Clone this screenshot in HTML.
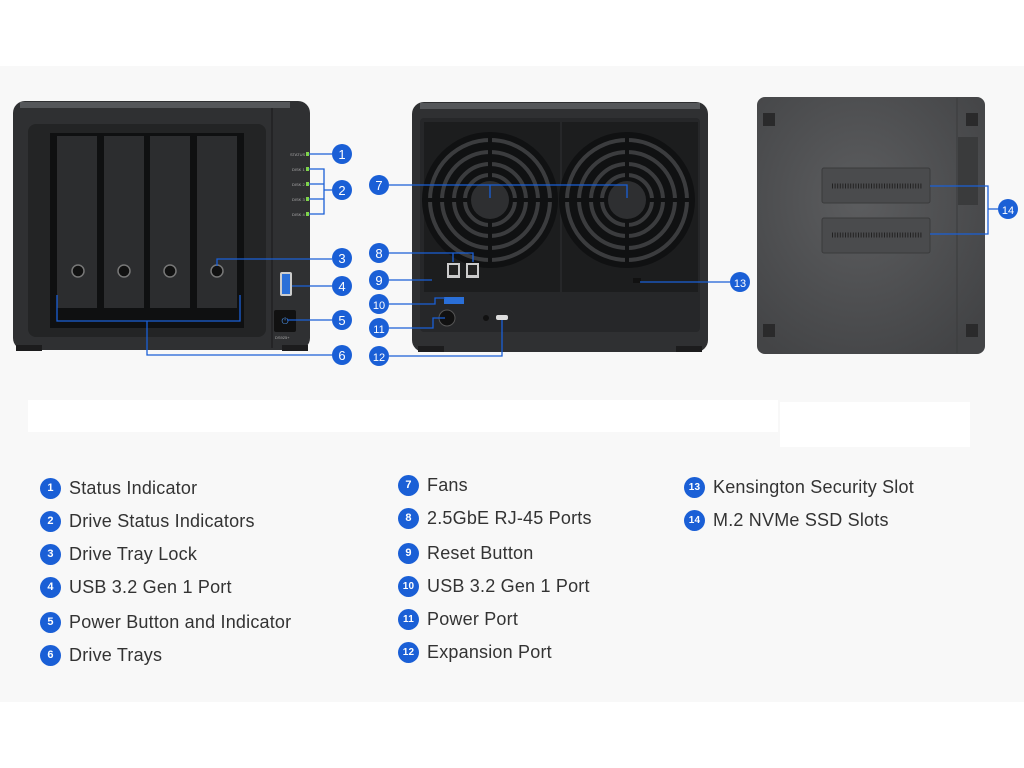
<!DOCTYPE html>
<html><head><meta charset="utf-8"><style>
body{margin:0;width:1024px;height:768px;background:#fff;overflow:hidden;font-family:"Liberation Sans",sans-serif}
.leg{position:absolute;font-size:18px;color:#333;display:flex;align-items:center;letter-spacing:.2px}
.leg b{display:inline-block;width:21px;height:21px;border-radius:50%;background:#1a5fd6;color:#fff;font-size:11px;font-weight:bold;text-align:center;line-height:21px;margin-right:8px}
</style></head><body>
<div style="position:absolute;left:0;top:66px;width:1024px;height:636px;background:#f8f8f8"></div>
<div style="position:absolute;left:28px;top:400px;width:750px;height:32px;background:#fff"></div>
<div style="position:absolute;left:780px;top:402px;width:190px;height:45px;background:#fff"></div>
<svg style="position:absolute;left:0;top:0" width="1024" height="768" viewBox="0 0 1024 768">
<defs>
<radialGradient id="bg" cx="0.45" cy="0.4" r="0.7"><stop offset="0" stop-color="#5c5d5f"/><stop offset="1" stop-color="#434446"/></radialGradient>
<g id="fan"><circle r="68" fill="#101112"/><g fill="none" stroke="#3b3c3e" stroke-width="4"><circle r="60"/><circle r="48"/><circle r="36"/><circle r="25"/></g><circle r="19" fill="#2e2f31"/><g stroke="#101112" stroke-width="4"><line x1="-68" y1="0" x2="-19" y2="0"/><line x1="19" y1="0" x2="68" y2="0"/><line x1="0" y1="-68" x2="0" y2="-19"/><line x1="0" y1="19" x2="0" y2="68"/></g></g></defs>
<!-- front -->
<rect x="13" y="101" width="297" height="249" rx="12" fill="#2f3032"/>
<rect x="20" y="102" width="270" height="6" fill="#55575a"/>
<line x1="272" y1="108" x2="272" y2="348" stroke="#202122" stroke-width="1.5"/>
<rect x="28" y="124" width="238" height="213" rx="8" fill="#232425"/>
<rect x="50" y="133" width="194" height="195" fill="#0f1011"/>
<g fill="#2c2d2f"><rect x="57" y="136" width="40" height="172"/><rect x="104" y="136" width="40" height="172"/><rect x="150" y="136" width="40" height="172"/><rect x="197" y="136" width="40" height="172"/></g>
<g fill="#111" stroke="#777" stroke-width="1.5"><circle cx="78" cy="271" r="6"/><circle cx="124" cy="271" r="6"/><circle cx="170" cy="271" r="6"/><circle cx="217" cy="271" r="6"/></g>
<g fill="#7fd34a"><rect x="306" y="152" width="3" height="4"/><rect x="306" y="167" width="3" height="4"/><rect x="306" y="182" width="3" height="4"/><rect x="306" y="197" width="3" height="4"/><rect x="306" y="212" width="3" height="4"/></g>
<g font-size="4" fill="#aaa"><text x="290" y="156">STATUS</text><text x="292" y="171">DISK 1</text><text x="292" y="186">DISK 2</text><text x="292" y="201">DISK 3</text><text x="292" y="216">DISK 4</text><text x="275" y="339">DS925+</text></g>
<rect x="280" y="272" width="12" height="24" rx="2" fill="#ccc"/><rect x="282" y="274" width="8" height="20" fill="#2a6fd8"/>
<rect x="274" y="310" width="22" height="22" rx="2" fill="#111"/><text x="285" y="324" font-size="9" fill="#4a8ad8" text-anchor="middle">⏻</text>
<rect x="16" y="345" width="26" height="6" fill="#1c1c1d"/><rect x="282" y="345" width="26" height="6" fill="#1c1c1d"/>
<!-- back -->
<rect x="412" y="102" width="296" height="250" rx="12" fill="#2f3032"/>
<rect x="420" y="103" width="280" height="6" fill="#55575a"/>
<rect x="420" y="118" width="280" height="214" rx="4" fill="#262729"/>
<rect x="424" y="122" width="136" height="170" fill="#1c1d1e"/><rect x="562" y="122" width="136" height="170" fill="#1c1d1e"/>
<use href="#fan" x="490" y="200"/><use href="#fan" x="627" y="200"/>
<rect x="447" y="263" width="13" height="15" fill="#ccc"/><rect x="466" y="263" width="13" height="15" fill="#ccc"/>
<rect x="449" y="265" width="9" height="10" fill="#222"/><rect x="468" y="265" width="9" height="10" fill="#222"/>
<rect x="444" y="297" width="20" height="7" fill="#2a6fd8"/>
<circle cx="447" cy="318" r="8" fill="#111" stroke="#555"/>
<circle cx="486" cy="318" r="3" fill="#111"/><rect x="496" y="315" width="12" height="5" rx="2" fill="#ddd"/>
<rect x="633" y="278" width="8" height="5" fill="#111"/>
<rect x="418" y="346" width="26" height="6" fill="#1c1c1d"/><rect x="676" y="346" width="26" height="6" fill="#1c1c1d"/>
<!-- bottom -->
<rect x="757" y="97" width="228" height="257" rx="8" fill="url(#bg)"/>
<line x1="957" y1="98" x2="957" y2="353" stroke="#3a3b3c"/>
<rect x="958" y="137" width="20" height="68" fill="#3a3b3c"/>
<rect x="822" y="168" width="108" height="35" rx="2" fill="#4a4b4d" stroke="#3a3b3c"/>
<rect x="822" y="218" width="108" height="35" rx="2" fill="#4a4b4d" stroke="#3a3b3c"/>
<g stroke="#222" stroke-width="5" stroke-dasharray="1 1.6"><line x1="832" y1="186" x2="922" y2="186"/><line x1="832" y1="235" x2="922" y2="235"/></g>
<g fill="#2a2a2b"><rect x="763" y="113" width="12" height="13"/><rect x="966" y="113" width="12" height="13"/><rect x="763" y="324" width="12" height="13"/><rect x="966" y="324" width="12" height="13"/></g>
<!-- callout lines -->
<g stroke="#1a5fd6" stroke-width="1.3" fill="none">
<path d="M309 154H332M309 169H324V214H309M309 184H324M309 199H324M324 190H332"/>
<path d="M217 266V259H332M292 286H332M287 320H332"/>
<path d="M57 295V321H240V295M147 321V355H332"/>
<path d="M389 185H627V198M490 185V198"/>
<path d="M389 253H473V262M453 253V262M389 280H432M389 304H435V298H445M389 328H433V318H445M389 356H502V320"/>
<path d="M640 282H730M930 186H988V234H930M988 209H998"/>
</g>
<g font-size="13" fill="#fff" text-anchor="middle">
<circle cx="342" cy="154" r="10" fill="#1a5fd6"/><text x="342" y="159">1</text>
<circle cx="342" cy="190" r="10" fill="#1a5fd6"/><text x="342" y="195">2</text>
<circle cx="342" cy="258" r="10" fill="#1a5fd6"/><text x="342" y="263">3</text>
<circle cx="342" cy="286" r="10" fill="#1a5fd6"/><text x="342" y="291">4</text>
<circle cx="342" cy="320" r="10" fill="#1a5fd6"/><text x="342" y="325">5</text>
<circle cx="342" cy="355" r="10" fill="#1a5fd6"/><text x="342" y="360">6</text>
<circle cx="379" cy="185" r="10" fill="#1a5fd6"/><text x="379" y="190">7</text>
<circle cx="379" cy="253" r="10" fill="#1a5fd6"/><text x="379" y="258">8</text>
<circle cx="379" cy="280" r="10" fill="#1a5fd6"/><text x="379" y="285">9</text>
<circle cx="379" cy="304" r="10" fill="#1a5fd6"/><text x="379" y="309" font-size="11">10</text>
<circle cx="379" cy="328" r="10" fill="#1a5fd6"/><text x="379" y="333" font-size="11">11</text>
<circle cx="379" cy="356" r="10" fill="#1a5fd6"/><text x="379" y="361" font-size="11">12</text>
<circle cx="740" cy="282" r="10" fill="#1a5fd6"/><text x="740" y="287" font-size="11">13</text>
<circle cx="1008" cy="209" r="10" fill="#1a5fd6"/><text x="1008" y="214" font-size="11">14</text>
</g>
</svg>
<div class="leg" style="left:40px;top:478px"><b>1</b>Status Indicator</div>
<div class="leg" style="left:40px;top:511px"><b>2</b>Drive Status Indicators</div>
<div class="leg" style="left:40px;top:544px"><b>3</b>Drive Tray Lock</div>
<div class="leg" style="left:40px;top:577px"><b>4</b>USB 3.2 Gen 1 Port</div>
<div class="leg" style="left:40px;top:612px"><b>5</b>Power Button and Indicator</div>
<div class="leg" style="left:40px;top:645px"><b>6</b>Drive Trays</div>
<div class="leg" style="left:398px;top:475px"><b>7</b>Fans</div>
<div class="leg" style="left:398px;top:508px"><b>8</b>2.5GbE RJ-45 Ports</div>
<div class="leg" style="left:398px;top:543px"><b>9</b>Reset Button</div>
<div class="leg" style="left:398px;top:576px"><b style="font-size:10px">10</b>USB 3.2 Gen 1 Port</div>
<div class="leg" style="left:398px;top:609px"><b style="font-size:10px">11</b>Power Port</div>
<div class="leg" style="left:398px;top:642px"><b style="font-size:10px">12</b>Expansion Port</div>
<div class="leg" style="left:684px;top:477px"><b style="font-size:10px">13</b>Kensington Security Slot</div>
<div class="leg" style="left:684px;top:510px"><b style="font-size:10px">14</b>M.2 NVMe SSD Slots</div>
</body></html>
